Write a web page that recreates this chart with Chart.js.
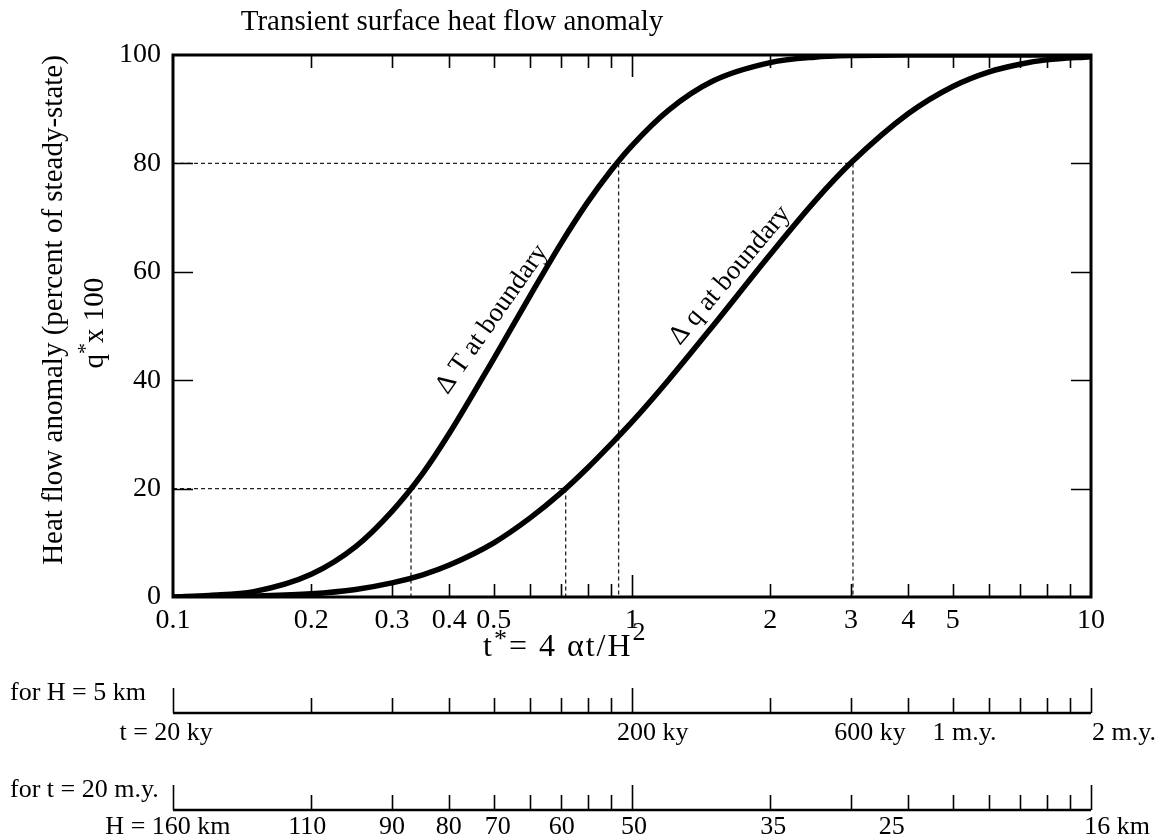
<!DOCTYPE html>
<html>
<head>
<meta charset="utf-8">
<style>
html, body { margin: 0; padding: 0; background: #ffffff; }
#wrap { width: 1161px; height: 837px; }
</style>
<script src="https://cdn.jsdelivr.net/npm/chart.js@4.4.0/dist/chart.umd.min.js"></script>
</head>
<body>
<div id="wrap"><canvas id="c" width="1161" height="837"></canvas></div>
<script>
// ---- data ----
const tStar  = [0.1, 0.12, 0.15, 0.2, 0.25, 0.3, 0.35, 0.4, 0.5, 0.6, 0.7, 0.8, 0.9, 1.0, 1.2, 1.5, 2, 2.5, 3, 4, 5, 6, 7, 8, 10];
const deltaT = [0, 0.3, 1.0, 4.2, 9.3, 15.8, 22.8, 30.2, 44.0, 55.6, 65.2, 72.8, 78.7, 83.3, 89.8, 95.2, 98.6, 99.6, 99.9, 100, 100, 100, 100, 100, 100];
const deltaQ = [0, 0.05, 0.2, 0.6, 1.4, 2.6, 4.1, 5.9, 10.0, 14.6, 19.2, 23.8, 28.2, 32.3, 40.0, 50.0, 63.2, 73.0, 80.1, 89.2, 94.2, 96.9, 98.3, 99.1, 99.7];

const crossAt20 = [0.33, 0.717];   // t* where curves reach 20
const crossAt80 = [0.935, 3.03];   // t* where curves reach 80

const xTickLabels = [0.1, 0.2, 0.3, 0.4, 0.5, 1, 2, 3, 4, 5, 10];
const xMinorTicks = [0.2, 0.3, 0.4, 0.5, 0.6, 0.7, 0.8, 0.9, 2, 3, 4, 5, 6, 7, 8, 9];
const xMajorTicks = [1];
const yTicks = [0, 20, 40, 60, 80, 100];
const yInnerTicks = [20, 40, 60, 80];

const ageLabels   = ["t = 20 ky", "200 ky", "600 ky", "1 m.y.", "2 m.y."];
const ageLabelAt  = [0.0966, 1.11, 3.3, 5.3, 11.8];
const depthLabels  = ["H = 160 km", "110", "90", "80", "70", "60", "50", "35", "25", "16 km"];
const depthLabelAt = [0.0975, 0.196, 0.3, 0.399, 0.51, 0.703, 1.01, 2.03, 3.68, 11.4];
const secAxisEnds  = [0.1, 1, 10];

// ---- build datasets ----
const FONT = '"Liberation Serif", "Times New Roman", Times, serif';
const curve = (ys) => tStar.map((x, i) => ({ x: x, y: ys[i] }));
const guideStyle = { borderColor: '#222', borderWidth: 1.3, borderDash: [4, 3], pointRadius: 0, fill: false, tension: 0 };
const guides = [];
guides.push({ ...guideStyle, data: [{ x: 0.1, y: 20 }, { x: Math.max(...crossAt20), y: 20 }] });
guides.push({ ...guideStyle, data: [{ x: 0.1, y: 80 }, { x: Math.max(...crossAt80), y: 80 }] });
crossAt20.forEach(v => guides.push({ ...guideStyle, data: [{ x: v, y: 20 }, { x: v, y: 0 }] }));
crossAt80.forEach(v => guides.push({ ...guideStyle, data: [{ x: v, y: 80 }, { x: v, y: 0 }] }));

const curveStyle = { borderColor: '#000', borderWidth: 5.5, pointRadius: 0, fill: false, cubicInterpolationMode: 'monotone' };

function supText(ctx, parts, x, y, align, size, supSize) {
  // parts: [text, isSup, raise]
  let total = 0;
  parts.forEach(p => {
    ctx.font = (p[1] ? supSize : size) + 'px ' + FONT;
    total += ctx.measureText(p[0]).width;
  });
  let cx = align === 'center' ? x - total / 2 : x;
  ctx.textAlign = 'left';
  parts.forEach(p => {
    ctx.font = (p[1] ? supSize : size) + 'px ' + FONT;
    ctx.fillText(p[0], cx, y - (p[1] ? (p[2] || 9) : 0));
    cx += ctx.measureText(p[0]).width;
  });
}

const decorPlugin = {
  id: 'decor',
  afterDatasetsDraw(chart) {
    const ctx = chart.ctx;
    const xs = chart.scales.x, ys = chart.scales.y;
    const a = chart.chartArea;
    ctx.save();
    ctx.strokeStyle = '#000';
    ctx.fillStyle = '#000';
    // plot frame
    ctx.lineWidth = 3;
    ctx.strokeRect(a.left, a.top, a.right - a.left, a.bottom - a.top);
    // inward ticks
    ctx.lineWidth = 1.6;
    ctx.beginPath();
    xMinorTicks.forEach(v => {
      const px = Math.round(xs.getPixelForValue(v)) + 0.5;
      ctx.moveTo(px, a.bottom); ctx.lineTo(px, a.bottom - 13);
      ctx.moveTo(px, a.top); ctx.lineTo(px, a.top + 13);
    });
    xMajorTicks.forEach(v => {
      const px = Math.round(xs.getPixelForValue(v)) + 0.5;
      ctx.moveTo(px, a.bottom); ctx.lineTo(px, a.bottom - 22);
      ctx.moveTo(px, a.top); ctx.lineTo(px, a.top + 22);
    });
    yInnerTicks.forEach(v => {
      const py = Math.round(ys.getPixelForValue(v)) + 0.5;
      ctx.moveTo(a.left, py); ctx.lineTo(a.left + 20, py);
      ctx.moveTo(a.right, py); ctx.lineTo(a.right - 20, py);
    });
    ctx.stroke();

    // curve labels
    ctx.font = '27px ' + FONT;
    ctx.textBaseline = 'alphabetic';
    ctx.textAlign = 'center';
    ctx.save();
    ctx.translate(xs.getPixelForValue(0.51), ys.getPixelForValue(50.5));
    ctx.rotate(-0.96);
    ctx.fillText('\u0394 T at boundary', 0, 0);
    ctx.restore();
    ctx.save();
    ctx.translate(xs.getPixelForValue(1.68), ys.getPixelForValue(58.5));
    ctx.rotate(-0.87);
    ctx.fillText('\u0394 q at boundary', 0, 0);
    ctx.restore();

    // title
    ctx.textBaseline = 'middle';
    ctx.textAlign = 'center';
    ctx.font = '29px ' + FONT;
    ctx.fillText('Transient surface heat flow anomaly', 452, 22);

    // y titles
    ctx.font = '29px ' + FONT;
    ctx.save();
    ctx.translate(54, 310);
    ctx.rotate(-Math.PI / 2);
    ctx.fillText('Heat flow anomaly (percent of steady-state)', 0, 0);
    ctx.restore();
    ctx.save();
    ctx.translate(95, 323);
    ctx.rotate(-Math.PI / 2);
    ctx.textBaseline = 'middle';
    supText(ctx, [['q', false], ['*', true, 9], ['x 100', false]], 0, 0, 'center', 29, 22);
    ctx.restore();

    // x title
    ctx.textBaseline = 'alphabetic';
    ctx.save();
    try { ctx.letterSpacing = '2px'; } catch (e) {}
    supText(ctx, [['t', false], ['*', true, 9], ['= 4 \u03b1t/H', false], ['2', true, 16]], 483, 656, 'left', 32, 26);
    ctx.restore();

    // secondary axes
    const rows = [
      { name: 'for H = 5 km', nameY: 693, lineY: 713, labels: ageLabels, at: ageLabelAt, labelY: 733 },
      { name: 'for t = 20 m.y.', nameY: 790, lineY: 810, labels: depthLabels, at: depthLabelAt, labelY: 827 }
    ];
    rows.forEach(r => {
      ctx.textBaseline = 'middle';
      ctx.textAlign = 'left';
      ctx.font = '26px ' + FONT;
      ctx.fillText(r.name, 10, r.nameY);
      const x0 = xs.getPixelForValue(0.1), x1 = xs.getPixelForValue(10);
      ctx.lineWidth = 2.5;
      ctx.beginPath();
      ctx.moveTo(x0, r.lineY); ctx.lineTo(x1, r.lineY);
      ctx.stroke();
      ctx.lineWidth = 1.6;
      ctx.beginPath();
      xMinorTicks.forEach(v => {
        const px = Math.round(xs.getPixelForValue(v)) + 0.5;
        ctx.moveTo(px, r.lineY); ctx.lineTo(px, r.lineY - 15);
      });
      secAxisEnds.forEach(v => {
        const px = Math.round(xs.getPixelForValue(v)) + 0.5;
        ctx.moveTo(px, r.lineY); ctx.lineTo(px, r.lineY - 25);
      });
      ctx.stroke();
      ctx.textAlign = 'center';
      r.labels.forEach((t, i) => {
        ctx.fillText(t, xs.getPixelForValue(r.at[i]), r.labelY);
      });
    });
    ctx.restore();
  }
};

new Chart(document.getElementById('c'), {
  type: 'line',
  data: {
    datasets: [
      { ...curveStyle, label: '\u0394 T at boundary', data: curve(deltaT) },
      { ...curveStyle, label: '\u0394 q at boundary', data: curve(deltaQ) },
      ...guides
    ]
  },
  options: {
    responsive: false,
    animation: false,
    devicePixelRatio: 1,
    layout: { padding: { top: 55, right: 70, left: 0, bottom: 0 } },
    plugins: { legend: { display: false }, tooltip: { enabled: false }, title: { display: false } },
    scales: {
      x: {
        type: 'logarithmic',
        min: 0.1, max: 10,
        afterBuildTicks: s => { s.ticks = xTickLabels.map(v => ({ value: v })); },
        afterFit: s => { s.height = 240; },
        grid: { display: false, drawTicks: false },
        border: { display: false },
        ticks: {
          autoSkip: false, maxRotation: 0, padding: 7, color: '#000',
          font: { family: FONT, size: 28 },
          callback: v => String(v)
        }
      },
      y: {
        type: 'linear',
        min: 0, max: 100,
        afterBuildTicks: s => { s.ticks = yTicks.map(v => ({ value: v })); },
        afterFit: s => { s.width = 173; },
        grid: { display: false, drawTicks: false },
        border: { display: false },
        ticks: { padding: 12, color: '#000', font: { family: FONT, size: 28 } }
      }
    }
  },
  plugins: [decorPlugin]
});
</script>
</body>
</html>
